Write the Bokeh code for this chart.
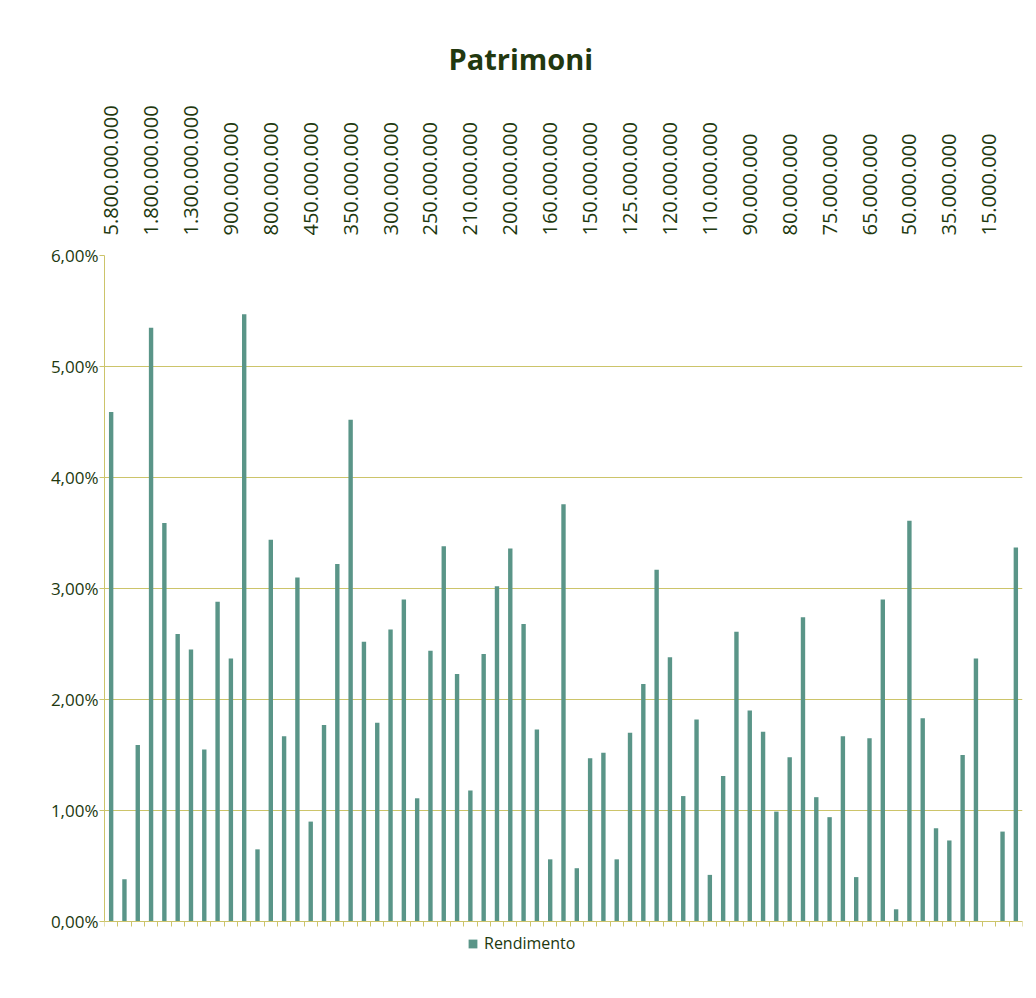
from math import pi
from bokeh.plotting import figure
from bokeh.models import (ColumnDataSource, Range1d, LinearAxis, FixedTicker,
                          Legend, LegendItem)
from bokeh.embed import file_html
from bokeh.resources import INLINE

# ---- data -------------------------------------------------------------
patrimoni_labels = [
    "5.800.000.000", "1.800.000.000", "1.300.000.000", "900.000.000",
    "800.000.000", "450.000.000", "350.000.000", "300.000.000",
    "250.000.000", "210.000.000", "200.000.000", "160.000.000",
    "150.000.000", "125.000.000", "120.000.000", "110.000.000",
    "90.000.000", "80.000.000", "75.000.000", "65.000.000",
    "50.000.000", "35.000.000", "15.000.000",
]
label_every = 3  # one label shown for every 3 categories

rendimento = [
    4.59, 0.38, 1.59, 5.35, 3.59, 2.59, 2.45, 1.55, 2.88, 2.37, 5.47, 0.65,
    3.44, 1.67, 3.10, 0.90, 1.77, 3.22, 4.52, 2.52, 1.79, 2.63, 2.90,
    1.11, 2.44, 3.38, 2.23, 1.18, 2.41, 3.02, 3.36, 2.68, 1.73, 0.56, 3.76,
    0.48, 1.47, 1.52, 0.56, 1.70, 2.14, 3.17, 2.38, 1.13, 1.82, 0.42, 1.31,
    2.61, 1.90, 1.71, 0.99, 1.48, 2.74, 1.12, 0.94, 1.67, 0.40, 1.65, 2.90,
    0.11, 3.61, 1.83, 0.84, 0.73, 1.50, 2.37, 0.00, 0.81, 3.37,
]
y_ticks = [0, 1, 2, 3, 4, 5, 6]
series_name = "Rendimento"
title_text = "Patrimoni"

# ---- styling -----------------------------------------------------------
BAR = "#5a9588"
GRID = "#ccc46a"
TXT = "#22380f"
FONT = "Open Sans"

n = len(rendimento)
src = ColumnDataSource(dict(x=list(range(n)), y=rendimento))

# frame extends below 0 to leave room for the legend inside it
Y_MIN = -0.4865
p = figure(frame_width=918, frame_height=720,
           min_border_left=104, min_border_right=12,
           min_border_top=255, min_border_bottom=0,
           x_range=Range1d(-0.5, n - 0.5), y_range=Range1d(Y_MIN, 6),
           output_backend="svg", toolbar_location=None,
           background_fill_color="white", border_fill_color="white")
p.outline_line_color = None

r = p.vbar(x="x", top="y", bottom=0, width=0.33, source=src,
           fill_color=BAR, line_color=None)

# title
p.title.text = title_text
p.title.align = "left"
p.title.offset = 344
p.title.text_font = FONT
p.title.text_font_size = "29px"
p.title.text_font_style = "bold"
p.title.text_color = TXT
p.title.standoff = 50

# y axis
ya = p.yaxis[0]
ya.ticker = FixedTicker(ticks=y_ticks)
ya.bounds = (0, 6)
ya.major_label_overrides = {t: f"{t},00%" for t in y_ticks}
ya.axis_line_color = GRID
ya.major_tick_line_color = GRID
ya.major_tick_out = 5
ya.major_tick_in = 0
ya.minor_tick_line_color = None
ya.major_label_standoff = 1
ya.major_label_text_font = FONT
ya.major_label_text_font_size = "17px"
ya.major_label_text_color = TXT

p.ygrid.ticker = FixedTicker(ticks=y_ticks)
p.ygrid.grid_line_color = GRID
p.ygrid.grid_line_width = 1
p.xgrid.visible = False

# bottom x axis at y=0: tick marks at category boundaries only (no labels)
xa = p.xaxis[0]
xa.fixed_location = 0
xa.ticker = FixedTicker(ticks=[], minor_ticks=[i - 0.5 for i in range(n + 1)])
xa.axis_line_color = GRID
xa.major_tick_line_color = None
xa.minor_tick_line_color = GRID
xa.minor_tick_out = 5
xa.minor_tick_in = 0
xa.major_label_standoff = 0

# top axis with the category labels
label_pos = list(range(0, n, label_every))[:len(patrimoni_labels)]
top = LinearAxis(ticker=FixedTicker(ticks=label_pos),
                 major_label_overrides=dict(zip(label_pos, patrimoni_labels)))
top.major_label_orientation = pi / 2
top.axis_line_color = None
top.major_tick_line_color = None
top.minor_tick_line_color = None
top.major_label_standoff = 14
top.major_label_text_font = FONT
top.major_label_text_font_size = "20px"
top.major_label_text_color = TXT
p.add_layout(top, "above")

# legend under the bars
leg = Legend(items=[LegendItem(label=series_name, renderers=[r])],
             location=(363, 21), orientation="horizontal",
             border_line_color=None, background_fill_alpha=0,
             padding=0, margin=0, glyph_width=11, glyph_height=11,
             label_standoff=6, label_text_font=FONT,
             label_text_font_size="16px", label_text_color=TXT)
p.add_layout(leg, "center")

open("out.html", "w").write(file_html(p, INLINE))
